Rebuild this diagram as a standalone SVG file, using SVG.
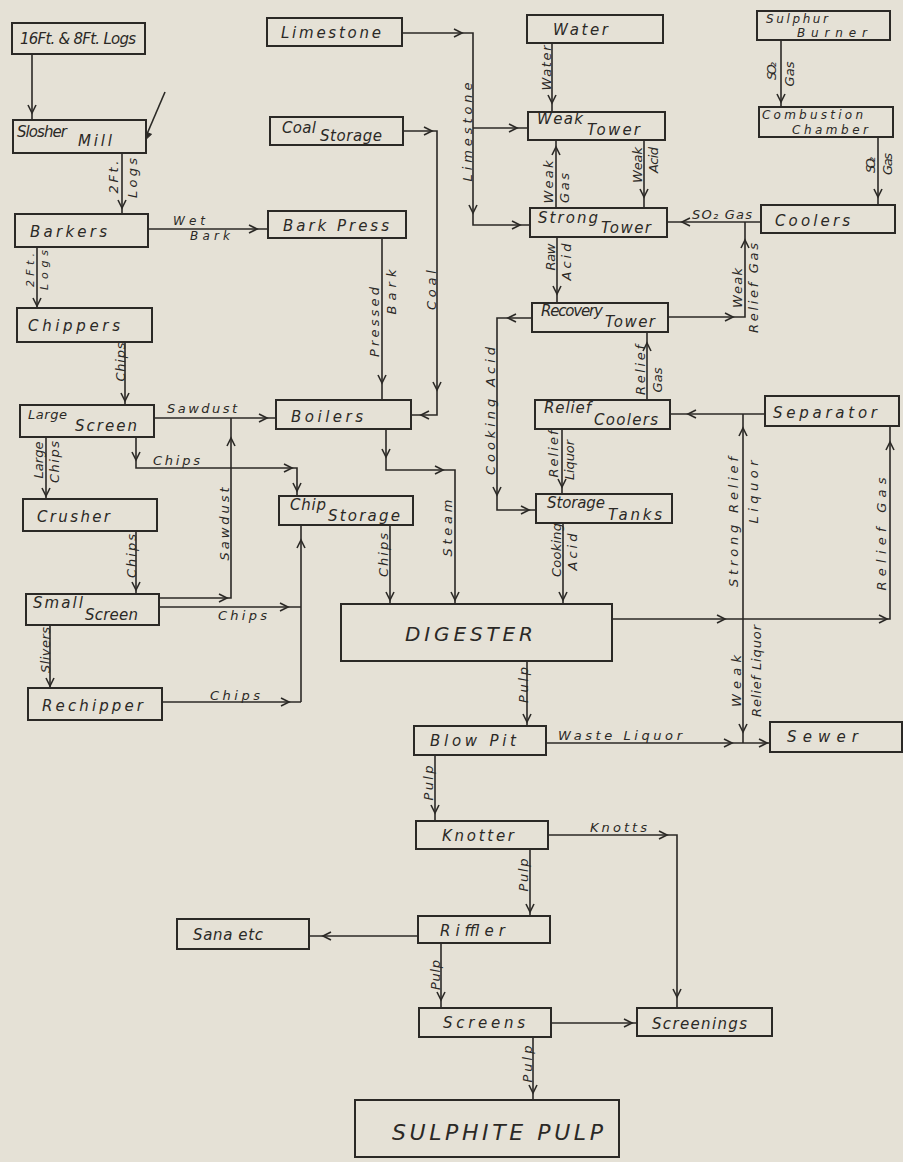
<svg xmlns="http://www.w3.org/2000/svg" xmlns:xlink="http://www.w3.org/1999/xlink" width="903" height="1162" viewBox="0 0 903 1162">
<style>
.box{fill:#e5e1d6;stroke:#2b2926;stroke-width:2}
.ln{fill:none;stroke:#2b2926;stroke-width:1.6}
.t{font-family:"DejaVu Sans","Liberation Sans",Arial,sans-serif;font-style:italic;font-size:15px;fill:#2b2926}
.h{font-family:"DejaVu Sans","Liberation Sans",Arial,sans-serif;font-style:italic;font-size:13px;fill:#2b2926}
.r{font-family:"DejaVu Sans","Liberation Sans",Arial,sans-serif;font-style:italic;font-size:13px;fill:#2b2926;text-anchor:middle}
</style>
<defs>
<path id="ah" d="M-8,-4 L0,0 L-8,4" fill="none" stroke="#2b2926" stroke-width="1.6"/>
<path id="ahf" d="M-9,-4 L0,0 L-9,4 Z" fill="#2b2926" stroke="#2b2926" stroke-width="1"/>
</defs>
<rect x="0" y="0" width="903" height="1162" fill="#e5e1d6"/>

<g id="connectors">
<path class="ln" d="M32,54 V120"/><use xlink:href="#ah" transform="translate(32,113) rotate(90)"/>
<path class="ln" d="M165,92 L144,141"/><use xlink:href="#ahf" transform="translate(144,141) rotate(113)"/>
<path class="ln" d="M122,153 V214"/><use xlink:href="#ah" transform="translate(122,208) rotate(90)"/>
<path class="ln" d="M37,247 V308"/><use xlink:href="#ah" transform="translate(37,306) rotate(90)"/>
<path class="ln" d="M148,229 H268"/><use xlink:href="#ah" transform="translate(257,229)"/>
<path class="ln" d="M125,342 V405"/><use xlink:href="#ah" transform="translate(125,401) rotate(90)"/>
<path class="ln" d="M154,418 H276"/><use xlink:href="#ah" transform="translate(267,418)"/>
<path class="ln" d="M159,598 H231 V418"/><use xlink:href="#ah" transform="translate(227,598)"/><use xlink:href="#ah" transform="translate(231,438) rotate(-90)"/>
<path class="ln" d="M136,437 V468 H297 V496"/><use xlink:href="#ah" transform="translate(136,460) rotate(90)"/><use xlink:href="#ah" transform="translate(292,468)"/><use xlink:href="#ah" transform="translate(297,491) rotate(90)"/>
<path class="ln" d="M46,437 V499"/><use xlink:href="#ah" transform="translate(46,496) rotate(90)"/>
<path class="ln" d="M136,531 V594"/><use xlink:href="#ah" transform="translate(136,590) rotate(90)"/>
<path class="ln" d="M159,607 H301"/><use xlink:href="#ah" transform="translate(288,607)"/>
<path class="ln" d="M301,702 V525"/><use xlink:href="#ah" transform="translate(301,540) rotate(-90)"/>
<path class="ln" d="M50,625 V688"/><use xlink:href="#ah" transform="translate(50,686) rotate(90)"/>
<path class="ln" d="M162,702 H301"/><use xlink:href="#ah" transform="translate(289,702)"/>
<path class="ln" d="M402,33 H473 V225 H530"/><use xlink:href="#ah" transform="translate(462,33)"/><use xlink:href="#ah" transform="translate(473,213) rotate(90)"/><use xlink:href="#ah" transform="translate(520,225)"/>
<path class="ln" d="M473,128 H528"/><use xlink:href="#ah" transform="translate(517,128)"/>
<path class="ln" d="M403,131 H437 V415 H411"/><use xlink:href="#ah" transform="translate(432,131)"/><use xlink:href="#ah" transform="translate(437,390) rotate(90)"/><use xlink:href="#ah" transform="translate(421,415) rotate(180)"/>
<path class="ln" d="M382,238 V400"/><use xlink:href="#ah" transform="translate(382,383) rotate(90)"/>
<path class="ln" d="M386,429 V470 H455 V604"/><use xlink:href="#ah" transform="translate(386,457) rotate(90)"/><use xlink:href="#ah" transform="translate(443,470)"/><use xlink:href="#ah" transform="translate(455,600) rotate(90)"/>
<path class="ln" d="M390,525 V604"/><use xlink:href="#ah" transform="translate(390,600) rotate(90)"/>
<path class="ln" d="M552,43 V112"/><use xlink:href="#ah" transform="translate(552,103) rotate(90)"/>
<path class="ln" d="M556,208 V140"/><use xlink:href="#ah" transform="translate(556,147) rotate(-90)"/>
<path class="ln" d="M644,140 V208"/><use xlink:href="#ah" transform="translate(644,197) rotate(90)"/>
<path class="ln" d="M781,40 V107"/><use xlink:href="#ah" transform="translate(781,102) rotate(90)"/>
<path class="ln" d="M878,137 V205"/><use xlink:href="#ah" transform="translate(878,197) rotate(90)"/>
<path class="ln" d="M761,222 H667"/><use xlink:href="#ah" transform="translate(682,222) rotate(180)"/>
<path class="ln" d="M668,317 H745 V222"/><use xlink:href="#ah" transform="translate(733,317)"/><use xlink:href="#ah" transform="translate(745,240) rotate(-90)"/>
<path class="ln" d="M647,400 V332"/><use xlink:href="#ah" transform="translate(647,343) rotate(-90)"/>
<path class="ln" d="M532,318 H497 V510 H536"/><use xlink:href="#ah" transform="translate(508,318) rotate(180)"/><use xlink:href="#ah" transform="translate(497,495) rotate(90)"/><use xlink:href="#ah" transform="translate(529,510)"/>
<path class="ln" d="M557,237 V303"/><use xlink:href="#ah" transform="translate(557,294) rotate(90)"/>
<path class="ln" d="M562,429 V494"/><use xlink:href="#ah" transform="translate(562,487) rotate(90)"/>
<path class="ln" d="M765,414 H670"/><use xlink:href="#ah" transform="translate(688,414) rotate(180)"/>
<path class="ln" d="M743,414 V743"/><use xlink:href="#ah" transform="translate(743,428) rotate(-90)"/><use xlink:href="#ah" transform="translate(743,732) rotate(90)"/>
<path class="ln" d="M612,619 H890 V426"/><use xlink:href="#ah" transform="translate(725,619)"/><use xlink:href="#ah" transform="translate(887,619)"/><use xlink:href="#ah" transform="translate(890,442) rotate(-90)"/>
<path class="ln" d="M563,523 V604"/><use xlink:href="#ah" transform="translate(563,600) rotate(90)"/>
<path class="ln" d="M527,661 V726"/><use xlink:href="#ah" transform="translate(527,722) rotate(90)"/>
<path class="ln" d="M546,743 H770"/><use xlink:href="#ah" transform="translate(732,743)"/><use xlink:href="#ah" transform="translate(767,743)"/>
<path class="ln" d="M435,755 V821"/><use xlink:href="#ah" transform="translate(435,813) rotate(90)"/>
<path class="ln" d="M548,835 H677 V1008"/><use xlink:href="#ah" transform="translate(667,835)"/><use xlink:href="#ah" transform="translate(677,997) rotate(90)"/>
<path class="ln" d="M530,849 V916"/><use xlink:href="#ah" transform="translate(530,912) rotate(90)"/>
<path class="ln" d="M418,936 H309"/><use xlink:href="#ah" transform="translate(323,936) rotate(180)"/>
<path class="ln" d="M441,943 V1008"/><use xlink:href="#ah" transform="translate(441,1000) rotate(90)"/>
<path class="ln" d="M551,1023 H637"/><use xlink:href="#ah" transform="translate(632,1023)"/>
<path class="ln" d="M533,1037 V1100"/><use xlink:href="#ah" transform="translate(533,1093) rotate(90)"/>

<text class="r" transform="translate(117.5,177) rotate(-90)" textLength="33">2Ft.</text>
<text class="r" transform="translate(136.5,178) rotate(-90)" textLength="40">Logs</text>
<text class="r" transform="translate(34,270) rotate(-90)" textLength="34" style="font-size:11px">2Ft.</text>
<text class="r" transform="translate(47.5,270) rotate(-90)" textLength="40" style="font-size:11px">Logs</text>
<text class="h" x="173" y="225" textLength="32" style="font-size:12px">Wet</text>
<text class="h" x="190" y="240" textLength="40" style="font-size:12px">Bark</text>
<text class="r" transform="translate(124.5,362) rotate(-90)" textLength="39">Chips</text>
<text class="h" x="167" y="413" textLength="70">Sawdust</text>
<text class="r" transform="translate(228.5,524) rotate(-90)" textLength="73">Sawdust</text>
<text class="h" x="153" y="465" textLength="47">Chips</text>
<text class="r" transform="translate(42.5,460) rotate(-90)" textLength="37">Large</text>
<text class="r" transform="translate(58.5,462) rotate(-90)" textLength="42">Chips</text>
<text class="r" transform="translate(135.5,556) rotate(-90)" textLength="44">Chips</text>
<text class="h" x="218" y="620" textLength="49">Chips</text>
<text class="r" transform="translate(49.5,650) rotate(-90)" textLength="46">Slivers</text>
<text class="h" x="210" y="700" textLength="50">Chips</text>
<text class="r" transform="translate(471.5,132) rotate(-90)" textLength="99">Limestone</text>
<text class="r" transform="translate(435.5,290) rotate(-90)" textLength="40">Coal</text>
<text class="r" transform="translate(378.5,322) rotate(-90)" textLength="70">Pressed</text>
<text class="r" transform="translate(395.5,292) rotate(-90)" textLength="45">Bark</text>
<text class="r" transform="translate(451.5,528) rotate(-90)" textLength="57">Steam</text>
<text class="r" transform="translate(387.5,555) rotate(-90)" textLength="44">Chips</text>
<text class="r" transform="translate(550.5,68) rotate(-90)" textLength="45">Water</text>
<text class="r" transform="translate(552.5,182) rotate(-90)" textLength="43">Weak</text>
<text class="r" transform="translate(568.5,188) rotate(-90)" textLength="30">Gas</text>
<text class="r" transform="translate(641.5,165) rotate(-90)" textLength="36">Weak</text>
<text class="r" transform="translate(657.5,160) rotate(-90)" textLength="26">Acid</text>
<text class="r" transform="translate(775.5,71) rotate(-90)" textLength="18">SO₂</text>
<text class="r" transform="translate(793.5,74) rotate(-90)" textLength="25">Gas</text>
<text class="r" transform="translate(874.5,165) rotate(-90)" textLength="16">SO₂</text>
<text class="r" transform="translate(891.5,164) rotate(-90)" textLength="22">Gas</text>
<text class="h" x="692" y="219" textLength="60">SO₂ Gas</text>
<text class="r" transform="translate(741.5,288) rotate(-90)" textLength="40">Weak</text>
<text class="r" transform="translate(757.5,288) rotate(-90)" textLength="90">Relief Gas</text>
<text class="r" transform="translate(644.5,370) rotate(-90)" textLength="50">Relief</text>
<text class="r" transform="translate(661.5,380) rotate(-90)" textLength="25">Gas</text>
<text class="r" transform="translate(494.5,411) rotate(-90)" textLength="128">Cooking Acid</text>
<text class="r" transform="translate(554.5,257) rotate(-90)" textLength="27">Raw</text>
<text class="r" transform="translate(570.5,262) rotate(-90)" textLength="37">Acid</text>
<text class="r" transform="translate(557.5,454) rotate(-90)" textLength="47">Relief</text>
<text class="r" transform="translate(573.5,460) rotate(-90)" textLength="40">Liquor</text>
<text class="r" transform="translate(737.5,522) rotate(-90)" textLength="130">Strong Relief</text>
<text class="r" transform="translate(757.5,492) rotate(-90)" textLength="63">Liquor</text>
<text class="r" transform="translate(740.5,681) rotate(-90)" textLength="52">Weak</text>
<text class="r" transform="translate(760.5,671) rotate(-90)" textLength="92">Relief Liquor</text>
<text class="r" transform="translate(885.5,534) rotate(-90)" textLength="113">Relief Gas</text>
<text class="r" transform="translate(560.5,550) rotate(-90)" textLength="54">Cooking</text>
<text class="r" transform="translate(576.5,552) rotate(-90)" textLength="37">Acid</text>
<text class="r" transform="translate(527.5,685) rotate(-90)" textLength="36">Pulp</text>
<text class="h" x="558" y="740" textLength="124">Waste Liquor</text>
<text class="r" transform="translate(432.5,783) rotate(-90)" textLength="35">Pulp</text>
<text class="h" x="590" y="832" textLength="57">Knotts</text>
<text class="r" transform="translate(527.5,875) rotate(-90)" textLength="33">Pulp</text>
<text class="r" transform="translate(439.5,975) rotate(-90)" textLength="30">Pulp</text>
<text class="r" transform="translate(531.5,1064) rotate(-90)" textLength="37">Pulp</text>
</g>

<g id="n_logs"><rect class="box" x="12" y="23" width="133" height="31"/><text class="t" x="20" y="44" textLength="116">16Ft. &amp; 8Ft. Logs</text></g>
<g id="n_slosher"><rect class="box" x="13" y="120" width="133" height="33"/><text class="t" x="17" y="137" textLength="50">Slosher</text><text class="t" x="78" y="146" textLength="34">Mill</text></g>
<g id="n_barkers"><rect class="box" x="15" y="214" width="133" height="33"/><text class="t" x="30" y="237" textLength="77">Barkers</text></g>
<g id="n_chippers"><rect class="box" x="17" y="308" width="135" height="34"/><text class="t" x="28" y="331" textLength="92">Chippers</text></g>
<g id="n_large_screen"><rect class="box" x="20" y="405" width="134" height="32"/><text class="t" x="28" y="419" textLength="39" style="font-size:13px">Large</text><text class="t" x="75" y="431" textLength="62">Screen</text></g>
<g id="n_crusher"><rect class="box" x="23" y="499" width="134" height="32"/><text class="t" x="37" y="522" textLength="73">Crusher</text></g>
<g id="n_small_screen"><rect class="box" x="26" y="594" width="133" height="31"/><text class="t" x="33" y="608" textLength="50">Small</text><text class="t" x="85" y="620" textLength="53">Screen</text></g>
<g id="n_rechipper"><rect class="box" x="28" y="688" width="134" height="32"/><text class="t" x="42" y="711" textLength="101">Rechipper</text></g>
<g id="n_limestone"><rect class="box" x="267" y="18" width="135" height="28"/><text class="t" x="281" y="38" textLength="100">Limestone</text></g>
<g id="n_coal_storage"><rect class="box" x="270" y="117" width="133" height="28"/><text class="t" x="282" y="133" textLength="34">Coal</text><text class="t" x="320" y="141" textLength="62">Storage</text></g>
<g id="n_bark_press"><rect class="box" x="268" y="211" width="138" height="27"/><text class="t" x="283" y="231" textLength="106">Bark Press</text></g>
<g id="n_boilers"><rect class="box" x="276" y="400" width="135" height="29"/><text class="t" x="291" y="422" textLength="72">Boilers</text></g>
<g id="n_chip_storage"><rect class="box" x="279" y="496" width="134" height="29"/><text class="t" x="290" y="510" textLength="36">Chip</text><text class="t" x="328" y="521" textLength="72">Storage</text></g>
<g id="n_digester"><rect class="box" x="341" y="604" width="271" height="57"/><text class="t" x="405" y="641" textLength="128" style="font-size:20px">DIGESTER</text></g>
<g id="n_blow_pit"><rect class="box" x="414" y="726" width="132" height="29"/><text class="t" x="430" y="746" textLength="86">Blow Pit</text></g>
<g id="n_knotter"><rect class="box" x="416" y="821" width="132" height="28"/><text class="t" x="442" y="841" textLength="72">Knotter</text></g>
<g id="n_riffler"><rect class="box" x="418" y="916" width="132" height="27"/><text class="t" x="440" y="936" textLength="65">Riffler</text></g>
<g id="n_sana"><rect class="box" x="177" y="919" width="132" height="30"/><text class="t" x="193" y="940" textLength="70">Sana etc</text></g>
<g id="n_screens"><rect class="box" x="419" y="1008" width="132" height="29"/><text class="t" x="443" y="1028" textLength="82">Screens</text></g>
<g id="n_screenings"><rect class="box" x="637" y="1008" width="135" height="28"/><text class="t" x="652" y="1029" textLength="95">Screenings</text></g>
<g id="n_sulphite_pulp"><rect class="box" x="355" y="1100" width="264" height="57"/><text class="t" x="392" y="1140" textLength="211" style="font-size:22px">SULPHITE PULP</text></g>
<g id="n_water"><rect class="box" x="527" y="15" width="136" height="28"/><text class="t" x="553" y="35" textLength="55">Water</text></g>
<g id="n_weak_tower"><rect class="box" x="528" y="112" width="137" height="28"/><text class="t" x="537" y="124" textLength="46">Weak</text><text class="t" x="587" y="135" textLength="53">Tower</text></g>
<g id="n_strong_tower"><rect class="box" x="530" y="208" width="137" height="29"/><text class="t" x="538" y="223" textLength="60">Strong</text><text class="t" x="601" y="233" textLength="50">Tower</text></g>
<g id="n_sulphur_burner"><rect class="box" x="757" y="11" width="133" height="29"/><text class="t" x="766" y="23" textLength="62" style="font-size:12px">Sulphur</text><text class="t" x="797" y="37" textLength="70" style="font-size:12px">Burner</text></g>
<g id="n_combustion"><rect class="box" x="759" y="107" width="134" height="30"/><text class="t" x="762" y="119" textLength="101" style="font-size:12px">Combustion</text><text class="t" x="792" y="134" textLength="76" style="font-size:12px">Chamber</text></g>
<g id="n_coolers"><rect class="box" x="761" y="205" width="134" height="28"/><text class="t" x="775" y="226" textLength="75">Coolers</text></g>
<g id="n_recovery"><rect class="box" x="532" y="303" width="136" height="29"/><text class="t" x="541" y="316" textLength="62">Recovery</text><text class="t" x="605" y="327" textLength="50">Tower</text></g>
<g id="n_relief_coolers"><rect class="box" x="535" y="400" width="135" height="29"/><text class="t" x="544" y="413" textLength="47">Relief</text><text class="t" x="594" y="425" textLength="64">Coolers</text></g>
<g id="n_storage_tanks"><rect class="box" x="536" y="494" width="136" height="29"/><text class="t" x="547" y="508" textLength="58">Storage</text><text class="t" x="608" y="520" textLength="54">Tanks</text></g>
<g id="n_separator"><rect class="box" x="765" y="396" width="134" height="30"/><text class="t" x="773" y="418" textLength="104">Separator</text></g>
<g id="n_sewer"><rect class="box" x="770" y="722" width="132" height="30"/><text class="t" x="787" y="742" textLength="71">Sewer</text></g>
</svg>
